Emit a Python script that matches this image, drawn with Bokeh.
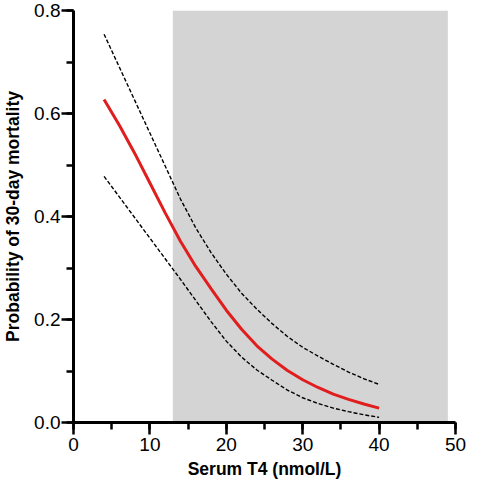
from bokeh.plotting import figure
from bokeh.models import Range1d, SingleIntervalTicker, PrintfTickFormatter
from bokeh.embed import file_html
from bokeh.resources import INLINE

# serum T4 values where the fitted curve was read
t4 = [4, 6, 8, 10, 12, 14, 16, 18, 20, 22, 24, 26, 28, 30, 32, 34, 36, 38, 40]
prob = [0.627, 0.577, 0.523, 0.465, 0.407, 0.352, 0.303, 0.260, 0.218, 0.181,
        0.149, 0.123, 0.101, 0.083, 0.068, 0.055, 0.045, 0.036, 0.028]
ci_upper = [0.754, 0.690, 0.626, 0.562, 0.498, 0.434, 0.378, 0.330, 0.288, 0.251,
            0.220, 0.192, 0.167, 0.146, 0.129, 0.113, 0.098, 0.085, 0.074]
ci_lower = [0.478, 0.438, 0.398, 0.358, 0.318, 0.278, 0.237, 0.196, 0.158, 0.127,
            0.102, 0.082, 0.063, 0.048, 0.037, 0.028, 0.021, 0.015, 0.010]

# shaded reference interval
shade_left = [13]
shade_right = [49]
shade_bottom = [0]
shade_top = [0.8]

FONT = "Liberation Sans"


def style_axis(axis, interval, label):
    axis.ticker = SingleIntervalTicker(interval=interval, num_minor_ticks=2)
    axis.axis_label = label
    axis.axis_label_text_font = FONT
    axis.axis_label_text_font_style = "bold"
    axis.axis_label_text_font_size = "17.5px"
    axis.axis_label_text_color = "black"
    axis.major_label_text_font = FONT
    axis.major_label_text_font_size = "19px"
    axis.major_label_text_color = "black"
    axis.axis_line_width = 3
    axis.axis_line_color = "black"
    axis.major_tick_line_width = 2.5
    axis.minor_tick_line_width = 2.5
    axis.major_tick_line_color = "black"
    axis.minor_tick_line_color = "black"
    axis.major_tick_out = 12
    axis.major_tick_in = 0
    axis.minor_tick_out = 7
    axis.minor_tick_in = 0


def plot():
    p = figure(width=466, height=484, output_backend="svg", toolbar_location=None,
               x_range=Range1d(0, 50), y_range=Range1d(0, 0.8),
               min_border_left=68, min_border_right=11, min_border_top=10, min_border_bottom=62)
    p.outline_line_color = None
    p.xgrid.visible = False
    p.ygrid.visible = False

    p.quad(left=shade_left, right=shade_right, bottom=shade_bottom, top=shade_top,
           fill_color="#d4d4d4", line_color=None)

    p.line(t4, ci_upper, line_color="black", line_width=1.4, line_dash="4 2")
    p.line(t4, ci_lower, line_color="black", line_width=1.4, line_dash="4 2")
    p.line(t4, prob, line_color="#e01e1e", line_width=3)

    style_axis(p.xaxis[0], 10, "Serum T4 (nmol/L)")
    style_axis(p.yaxis[0], 0.2, "Probability of 30-day mortality")
    p.yaxis[0].formatter = PrintfTickFormatter(format="%.1f")
    p.xaxis[0].major_label_standoff = 3
    p.xaxis[0].axis_label_standoff = 5
    p.yaxis[0].major_label_standoff = 1
    p.yaxis[0].axis_label_standoff = 8
    return p


def main():
    p = plot()
    open("out.html", "w").write(file_html(p, INLINE))


if __name__ == "__main__":
    main()
